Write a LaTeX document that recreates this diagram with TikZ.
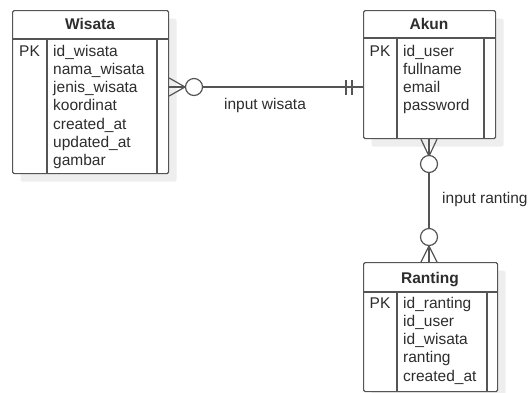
\documentclass[tikz,border=0pt]{standalone}
\usepackage{fontspec}
\setmainfont{Liberation Sans}
\usetikzlibrary{calc,shadows}
\definecolor{ln}{RGB}{85,85,85}
\definecolor{tx}{RGB}{45,45,45}
\definecolor{sh}{RGB}{238,238,238}
\tikzset{
  tbl/.style={draw=ln, line width=1.2pt, fill=white, rounded corners=1.5pt, anchor=north west, inner sep=0pt,
    drop shadow={shadow xshift=8pt, shadow yshift=-8pt, fill=sh, opacity=1}},
  div/.style={draw=ln, line width=1.2pt},
  conn/.style={draw=ln, line width=1.2pt},
  hdr/.style={anchor=base, inner sep=0pt, text=tx, font=\fontsize{15.5}{18.3}\selectfont\bfseries},
  fld/.style={anchor=base west, inner sep=0pt, text=tx, font=\fontsize{15.5}{18.3}\selectfont},
  pk/.style={anchor=base, inner sep=0pt, text=tx, font=\fontsize{15.5}{18.3}\selectfont},
  lbl/.style={inner sep=0pt, text=tx, font=\fontsize{15.5}{18.3}\selectfont},
  ring/.style={circle, draw=ln, line width=1.2pt, fill=white, minimum size=17pt, inner sep=0pt},
}
\begin{document}
\begin{tikzpicture}[x=1pt,y=-1pt]
\useasboundingbox (0,0) rectangle (529,392);

% ---- Wisata ----
\node[tbl, minimum width=156pt, minimum height=163pt] (wisata) at (12,10) {};
\draw[div] (12,39) -- (168,39);
\draw[div] (47,39) -- (47,173);
\draw[div] (157,39) -- (157,173);
\node[hdr] (wisataT) at (90,29) {Wisata};
\node[pk] (wisataPK) at (29.5,56) {PK};
\foreach \t [count=\i from 0] in {id\_wisata,nama\_wisata,jenis\_wisata,koordinat,created\_at,updated\_at,gambar}
  \node[fld] (wisataF\i) at (53,56+18.3*\i) {\t};

% ---- Akun ----
\node[tbl, minimum width=132pt, minimum height=128pt] (akun) at (363,10) {};
\draw[div] (363,38) -- (495,38);
\draw[div] (397,38) -- (397,138);
\draw[div] (484,38) -- (484,138);
\node[hdr] (akunT) at (429,29.5) {Akun};
\node[pk] (akunPK) at (380,56) {PK};
\foreach \t [count=\i from 0] in {id\_user,fullname,email,password}
  \node[fld] (akunF\i) at (403,56+18.3*\i) {\t};

% ---- Ranting ----
\node[tbl, minimum width=134pt, minimum height=129pt] (ranting) at (363,262) {};
\draw[div] (363,292) -- (497,292);
\draw[div] (397,292) -- (397,391);
\draw[div] (487,292) -- (487,391);
\node[hdr] (rantingT) at (430,283) {Ranting};
\node[pk] (rantingPK) at (380,308) {PK};
\foreach \t [count=\i from 0] in {id\_ranting,id\_user,id\_wisata,ranting,created\_at}
  \node[fld] (rantingF\i) at (403,308+18.3*\i) {\t};

% ---- Wisata -- Akun ----
\coordinate (wE) at (wisata.north east |- 0,87);
\coordinate (aW) at (akun.north west |- 0,87);
\coordinate (wTip) at (185,87);
\draw[conn] (wE) -- (aW);
\draw[conn] ($(wE)+(0,-9)$) -- (wTip) -- ($(wE)+(0,9)$);
\node[ring] (wRing) at (194,87) {};
\draw[conn] ($(aW)+(-17,-7.5)$) -- ($(aW)+(-17,7.5)$);
\draw[conn] ($(aW)+(-11,-7.5)$) -- ($(aW)+(-11,7.5)$);
\node[lbl] (lblW) at (265,105) {input wisata};

% ---- Akun -- Ranting ----
\coordinate (aS) at (akun.south west -| 429,0);
\coordinate (rN) at (ranting.north west -| 429,0);
\draw[conn] (aS) -- (rN);
\draw[conn] ($(aS)+(-8,0)$) -- ($(aS)+(0,17)$) -- ($(aS)+(8,0)$);
\node[ring] (aRing) at (429,164) {};
\draw[conn] ($(rN)+(-8,0)$) -- ($(rN)+(0,-16)$) -- ($(rN)+(8,0)$);
\node[ring] (rRing) at (429,237) {};
\node[lbl, anchor=west] (lblR) at (442,199) {input ranting};
\end{tikzpicture}
\end{document}
